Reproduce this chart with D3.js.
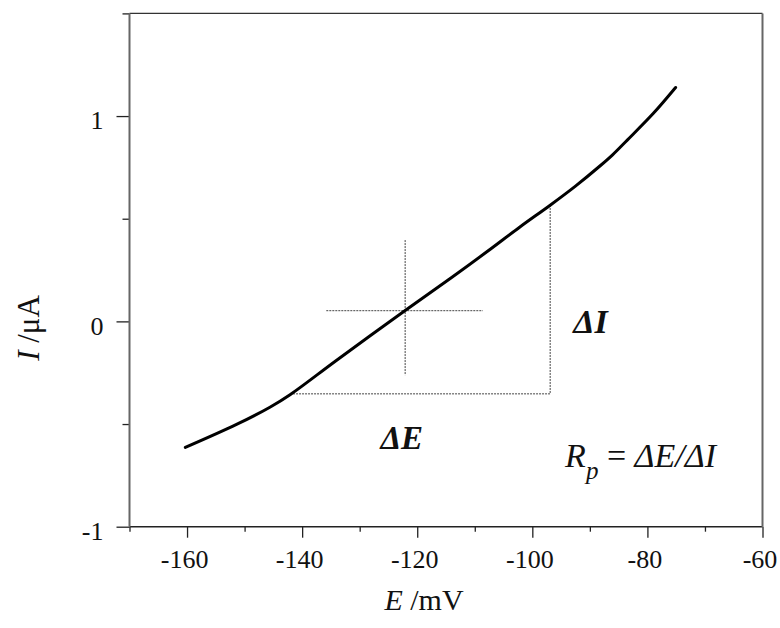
<!DOCTYPE html>
<meta charset="utf-8">
<script src="https://d3js.org/d3.v7.min.js"></script>
<style>
  body { margin: 0; background: #fff; }
  text { font-family: "Liberation Serif", "DejaVu Serif", serif; fill: #111; }
</style>
<div id="chart"></div>
<script>

// polarisation curve
var potential = [-160.3, -151.4, -145.6, -142.1, -134.0, -122.4, -113.9, -107.9, -102.1, -96.9, -92.5, -88.2, -86.1, -83.5, -79.0, -75.1]
var current   = [-0.614, -0.502, -0.418, -0.357, -0.189, 0.047, 0.216, 0.339, 0.461, 0.566, 0.659, 0.758, 0.810, 0.883, 1.012, 1.139]

// dotted construction lines [E, I]
var crossH = [[-135.8, 0.052], [-108.6, 0.052]]
var crossV = [[-122.1, 0.396], [-122.1, -0.262]]
var stepLine = [[-142.1, -0.353], [-96.9, -0.353], [-96.9, 0.567]]

var xMajor = [-160, -140, -120, -100, -80, -60]
var xMinor = [-170, -150, -130, -110, -90, -70]
var yMajor = [-1, 0, 1]
var yMinor = [-0.5, 0.5, 1.5]

var w = 780, h = 628
var margin = {top: 13.4, right: 17.5, bottom: 101.3, left: 129.5}

var svg = d3.select("#chart")
  .append("svg")
    .attr("width", w)
    .attr("height", h)

var x = d3.scaleLinear()
  .domain([-170, -60])
  .range([margin.left, w - margin.right])

var y = d3.scaleLinear()
  .domain([-1, 1.5])
  .range([h - margin.bottom, margin.top])

////  axes
var xAxis = svg.append("g")
  .attr("transform", `translate(0,${y(-1)})`)
  .call(d3.axisBottom(x).tickValues(xMajor).tickSize(11).tickSizeOuter(0).tickFormat(d => String(d)))
xAxis.select(".domain").remove()
xAxis.selectAll("text")
  .attr("y", 23)
  .attr("dx", -3)
  .attr("font-size", "26px")

var xAxisMinor = svg.append("g")
  .attr("transform", `translate(0,${y(-1)})`)
  .call(d3.axisBottom(x).tickValues(xMinor).tickSize(5).tickFormat(""))
xAxisMinor.select(".domain").remove()

var yAxis = svg.append("g")
  .attr("transform", `translate(${x(-170)},0)`)
  .call(d3.axisLeft(y).tickValues(yMajor).tickSize(13).tickSizeOuter(0).tickFormat(d => String(d)))
yAxis.select(".domain").remove()
yAxis.selectAll("text")
  .attr("x", -26)
  .attr("dy", "0.95em")
  .attr("y", -12)
  .attr("font-size", "26px")

var yAxisMinor = svg.append("g")
  .attr("transform", `translate(${x(-170)},0)`)
  .call(d3.axisLeft(y).tickValues(yMinor).tickSize(7).tickFormat(""))
yAxisMinor.select(".domain").remove()

svg.selectAll(".tick line").attr("stroke", "#222").attr("stroke-width", 1.3)

////  frame
svg.append("line")
  .attr("x1", x(-170)).attr("x2", x(-60))
  .attr("y1", y(1.5)).attr("y2", y(1.5))
  .attr("stroke", "#333").attr("stroke-width", 1.3)
svg.append("line")
  .attr("x1", x(-170)).attr("x2", x(-60))
  .attr("y1", y(-1)).attr("y2", y(-1))
  .attr("stroke", "#222").attr("stroke-width", 1.6)
svg.append("line")
  .attr("x1", x(-170)).attr("x2", x(-170))
  .attr("y1", y(1.5)).attr("y2", y(-1))
  .attr("stroke", "#666").attr("stroke-width", 2)
svg.append("line")
  .attr("x1", x(-60)).attr("x2", x(-60))
  .attr("y1", y(1.5)).attr("y2", y(-1))
  .attr("stroke", "#666").attr("stroke-width", 2)

////  dotted lines
var dotted = d3.line().x(d => x(d[0])).y(d => y(d[1]))
;[crossH, crossV, stepLine].forEach(function(seg) {
  svg.append("path")
    .attr("d", dotted(seg))
    .attr("fill", "none")
    .attr("stroke", "#444")
    .attr("stroke-width", 1)
    .attr("stroke-dasharray", "2,1")
})

////  curve
var pts = potential.map((e, i) => [e, current[i]])
svg.append("path")
  .attr("d", d3.line().x(d => x(d[0])).y(d => y(d[1])).curve(d3.curveCatmullRom.alpha(0.5))(pts))
  .attr("fill", "none")
  .attr("stroke", "#000")
  .attr("stroke-width", 3)
  .attr("stroke-linecap", "round")

////  labels
var ylabel = svg.append("text")
  .attr("transform", `translate(39,328) rotate(-90)`)
  .attr("text-anchor", "middle")
  .attr("font-size", "31px")
ylabel.append("tspan").attr("font-style", "italic").text("I")
ylabel.append("tspan").text(" /μA")

var xlabel = svg.append("text")
  .attr("x", 424)
  .attr("y", 610)
  .attr("text-anchor", "middle")
  .attr("font-size", "30px")
xlabel.append("tspan").attr("font-style", "italic").text("E")
xlabel.append("tspan").text(" /mV")

svg.append("text")
  .attr("x", x(-92.9))
  .attr("y", y(-0.055))
  .attr("font-size", "34px")
  .attr("font-weight", "bold")
  .attr("font-style", "italic")
  .text("ΔI")

svg.append("text")
  .attr("x", x(-126.4))
  .attr("y", y(-0.62))
  .attr("font-size", "33px")
  .attr("font-weight", "bold")
  .attr("font-style", "italic")
  .text("ΔE")

var rp = svg.append("text")
  .attr("x", x(-94.3))
  .attr("y", y(-0.708))
  .attr("font-size", "34px")
rp.append("tspan").attr("font-style", "italic").text("R")
rp.append("tspan").attr("font-style", "italic").attr("font-size", "25px").attr("dy", 12).text("p")
rp.append("tspan").attr("dy", -12).text(" = ")
rp.append("tspan").attr("font-style", "italic").text("ΔE/ΔI")

</script>
